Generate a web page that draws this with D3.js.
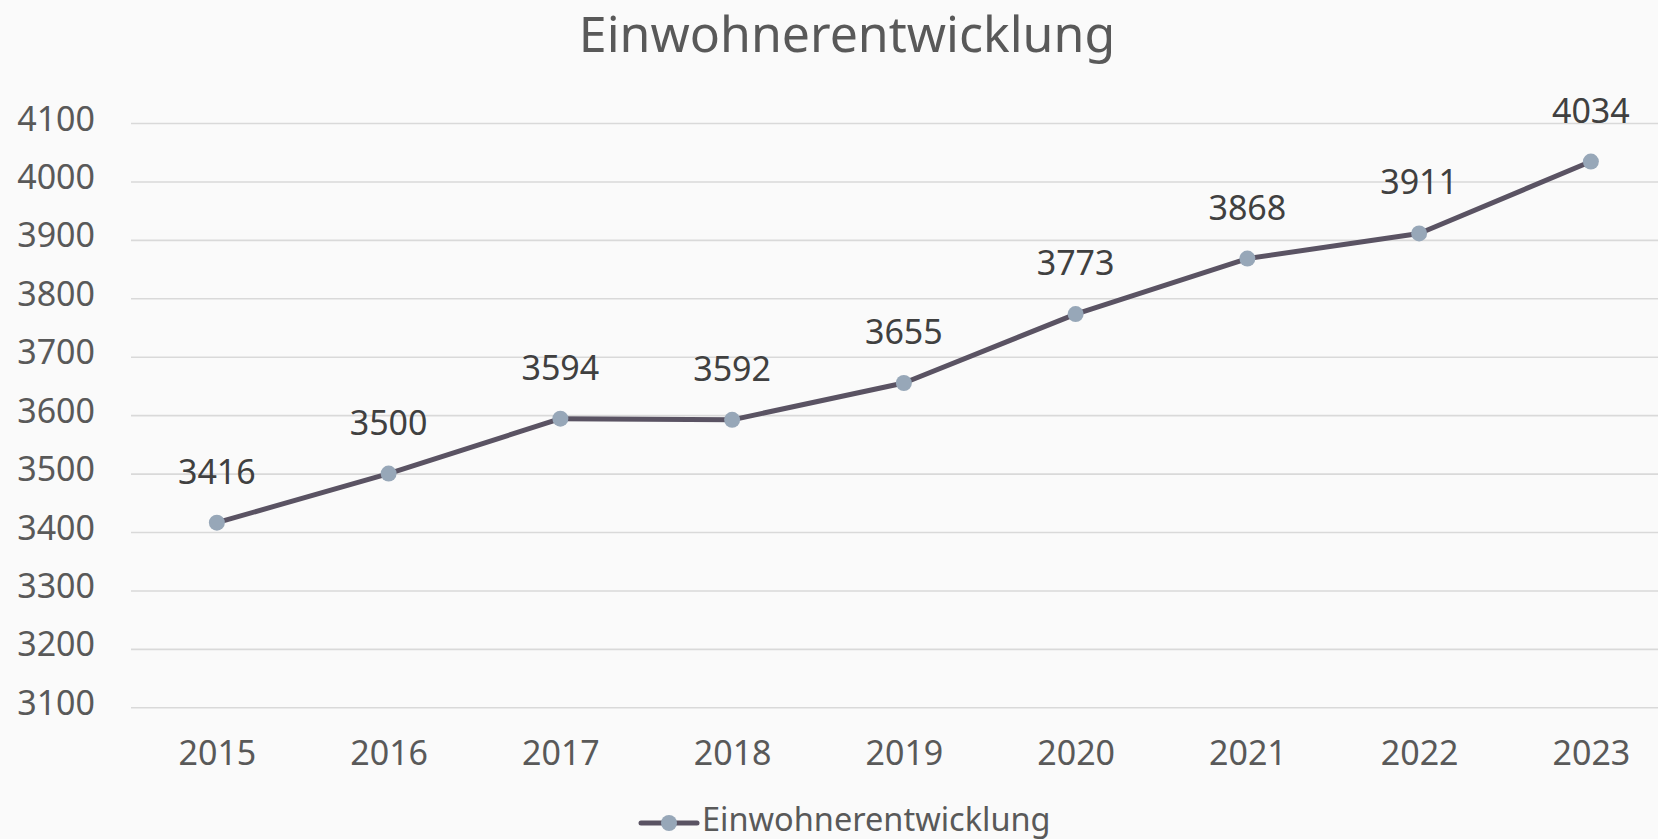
<!DOCTYPE html>
<html>
<head>
<meta charset="utf-8">
<title>Einwohnerentwicklung</title>
<script src="https://cdn.jsdelivr.net/npm/d3@7"></script>
<style>
  body { margin: 0; background: #fafafa; }
  svg { display: block; font-family: "Noto Sans", sans-serif; }
</style>
</head>
<body>
<div id="chart"></div>
<script>
// data
var years = ["2015", "2016", "2017", "2018", "2019", "2020", "2021", "2022", "2023"];
var einwohner = [3416, 3500, 3594, 3592, 3655, 3773, 3868, 3911, 4034];
var yTicks = [3100, 3200, 3300, 3400, 3500, 3600, 3700, 3800, 3900, 4000, 4100];
var seriesName = "Einwohnerentwicklung";

var width = 1658, height = 839;
var lineColor = "#5a5363", dotColor = "#97a7b8";

var svg = d3.select("#chart").append("svg")
    .attr("width", width).attr("height", height);

svg.append("rect").attr("width", width).attr("height", height).attr("fill", "#fafafa");

// scales
var x = d3.scalePoint().domain(years).range([131, 131 + 9 * 171.75]).padding(0.5);
var y = d3.scaleLinear().domain([3100, 4100]).range([707.3, 123]);

// title
svg.append("text")
    .attr("x", 847).attr("y", 52)
    .attr("text-anchor", "middle")
    .attr("font-size", 50)
    .attr("fill", "#595959")
    .text(seriesName);

// gridlines + y labels
var yAxis = d3.axisLeft(y).tickValues(yTicks).tickFormat(d3.format("d"))
    .tickSize(-(width - 131)).tickPadding(36);
var gy = svg.append("g").attr("transform", "translate(131,0)").call(yAxis);
gy.select(".domain").remove();
gy.selectAll(".tick line").attr("stroke", "#d9d9d9").attr("stroke-width", 1.6);
gy.selectAll(".tick text")
    .attr("font-size", 34).attr("fill", "#595959")
    .attr("font-family", "Noto Sans, sans-serif")
    .attr("dy", null).attr("y", 7);

// x labels
var xAxis = d3.axisBottom(x).tickSize(0).tickPadding(0);
var gx = svg.append("g").attr("transform", "translate(0,765)").call(xAxis);
gx.select(".domain").remove();
gx.selectAll(".tick text")
    .attr("font-size", 34).attr("fill", "#595959")
    .attr("font-family", "Noto Sans, sans-serif")
    .attr("dy", null).attr("y", 0);

// line
var pts = years.map(function(d, i) { return [d, einwohner[i]]; });
var line = d3.line().x(function(d) { return x(d[0]); }).y(function(d) { return y(d[1]); });
svg.append("path").datum(pts)
    .attr("d", line)
    .attr("fill", "none")
    .attr("stroke", lineColor)
    .attr("stroke-width", 5)
    .attr("stroke-linejoin", "round")
    .attr("stroke-linecap", "round");

svg.selectAll("circle.dot").data(pts).enter().append("circle")
    .attr("class", "dot")
    .attr("cx", function(d) { return x(d[0]); })
    .attr("cy", function(d) { return y(d[1]); })
    .attr("r", 8)
    .attr("fill", dotColor);

// data labels
svg.selectAll("text.lbl").data(pts).enter().append("text")
    .attr("class", "lbl")
    .attr("x", function(d) { return x(d[0]); })
    .attr("y", function(d) { return y(d[1]) - 39; })
    .attr("text-anchor", "middle")
    .attr("font-size", 34)
    .attr("fill", "#404040")
    .text(function(d) { return d[1]; });

// legend
var lg = svg.append("g");
lg.append("line").attr("x1", 641).attr("x2", 697).attr("y1", 823).attr("y2", 823)
    .attr("stroke", lineColor).attr("stroke-width", 5).attr("stroke-linecap", "round");
lg.append("circle").attr("cx", 669).attr("cy", 823).attr("r", 8).attr("fill", dotColor);
lg.append("text").attr("x", 702).attr("y", 831)
    .attr("font-size", 32.5).attr("fill", "#595959")
    .text(seriesName);
</script>
</body>
</html>
